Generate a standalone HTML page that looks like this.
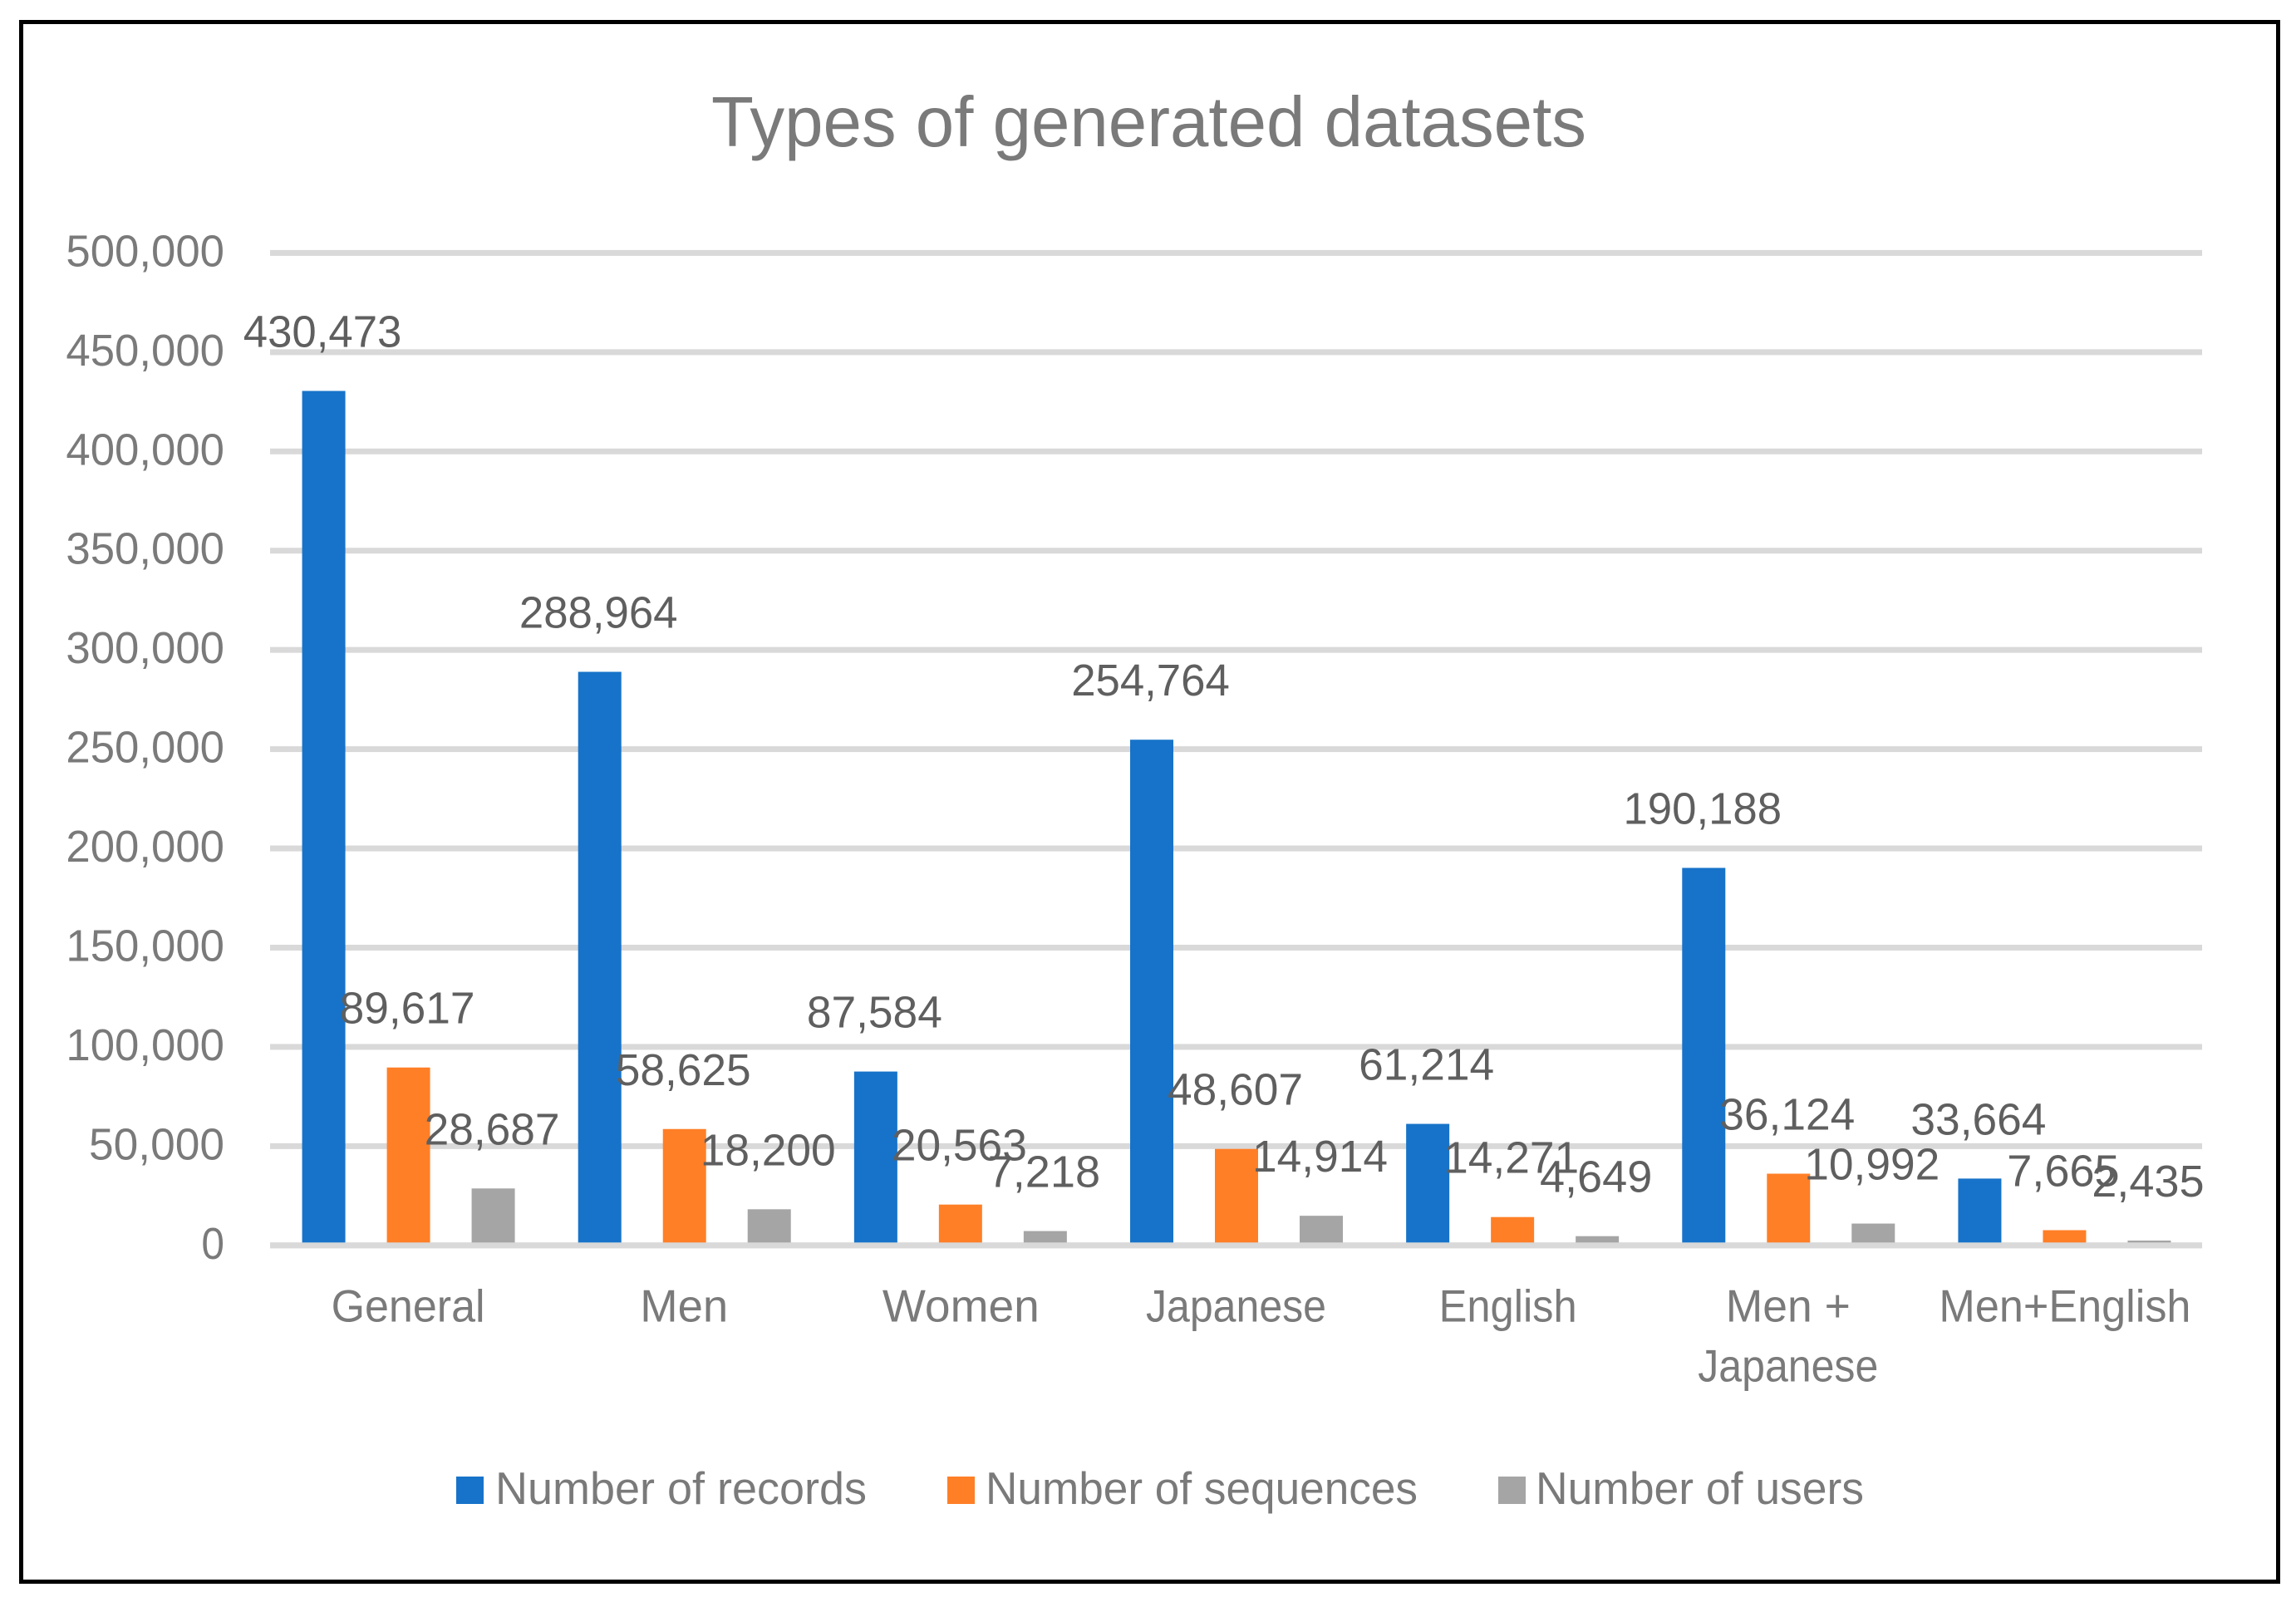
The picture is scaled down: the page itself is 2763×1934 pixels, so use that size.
<!DOCTYPE html>
<html lang="en">
<head>
<meta charset="utf-8">
<title>Types of generated datasets</title>
<style>
html,body{margin:0;padding:0;background:#fff;}
svg{display:block;font-family:"Liberation Sans",sans-serif;}
</style>
</head>
<body>
<svg id="chart" xmlns="http://www.w3.org/2000/svg" width="2763" height="1934" viewBox="0 0 2763 1934">
  <rect x="0" y="0" width="2763" height="1934" fill="#ffffff"/>
  <rect x="25.5" y="26.5" width="2716" height="1877" fill="none" stroke="#000000" stroke-width="5"/>
  <text x="856" y="176" font-size="85" fill="#7a7a7a" textLength="1053" lengthAdjust="spacingAndGlyphs">Types of generated datasets</text>
</svg>
<script>
const categories = ["General", "Men", "Women", "Japanese", "English", "Men + |Japanese", "Men+English"];
const categoryTextWidths = [185, 106, 189, 217, 166, "150|217", 303];
const categoryShift = [0, 0, 1, 0, -5, 0, 1];
const records = [430473, 288964, 87584, 254764, 61214, 190188, 33664];
const sequences = [89617, 58625, 20563, 48607, 14271, 36124, 7665];
const users = [28687, 18200, 7218, 14914, 4649, 10992, 2435];
const yTicks = [0, 50000, 100000, 150000, 200000, 250000, 300000, 350000, 400000, 450000, 500000];
const seriesNames = ["Number of records", "Number of sequences", "Number of users"];

const svg = document.getElementById('chart');
const NS = 'http://www.w3.org/2000/svg';
const plotLeft = 325, plotRight = 2650, y0 = 1498.8, yTop = 304.4, yMax = 500000;
const barWidth = 52, barGap = 102;
const colors = ['#1773c9', '#ff7f27', '#a5a5a5'];
const seriesList = [records, sequences, users];
const seriesKeys = ['records', 'sequences', 'users'];

function yScale(v) { return y0 - (v / yMax) * (y0 - yTop); }
function xBand(i) { return plotLeft + (i + 0.5) * (plotRight - plotLeft) / categories.length; }
function fmt(v) { return v.toLocaleString('en-US'); }
function numWidth(s) {
  const digits = s.replace(/,/g, '').length;
  const commas = s.length - digits;
  return digits * 27.6 + commas * 25;
}

yTicks.forEach(function (t) {
  const line = document.createElementNS(NS, 'rect');
  
  
  line.setAttribute('x', plotLeft);
  line.setAttribute('y', yScale(t) - 3.5);
  line.setAttribute('width', plotRight - plotLeft);
  line.setAttribute('height', 7);
  line.setAttribute('fill', '#d9d9d9');
  svg.appendChild(line);

  const label = document.createElementNS(NS, 'text');
  
  
  const s = fmt(t);
  const w = numWidth(s);
  label.setAttribute('x', 270 - w);
  label.setAttribute('y', yScale(t) + 16);
  label.setAttribute('font-size', 54);
  label.setAttribute('fill', '#7a7a7a');
  label.setAttribute('textLength', w);
  label.setAttribute('lengthAdjust', 'spacingAndGlyphs');
  label.textContent = s;
  svg.appendChild(label);
});

seriesList.forEach(function (vals, si) {
  vals.forEach(function (v, i) {
    const bar = document.createElementNS(NS, 'rect');
    
    
    bar.setAttribute('x', xBand(i) + (si - 1) * barGap - barWidth / 2 + 0.5);
    bar.setAttribute('y', yScale(v));
    bar.setAttribute('width', barWidth);
    bar.setAttribute('height', y0 - yScale(v));
    bar.setAttribute('fill', colors[si]);
    svg.appendChild(bar);
  });
});

const axisLine = document.createElementNS(NS, 'rect');


axisLine.setAttribute('x', plotLeft);
axisLine.setAttribute('y', y0 - 3.5);
axisLine.setAttribute('width', plotRight - plotLeft);
axisLine.setAttribute('height', 7);
axisLine.setAttribute('fill', '#d9d9d9');
svg.appendChild(axisLine);

seriesList.forEach(function (vals, si) {
  vals.forEach(function (v, i) {
    const t = document.createElementNS(NS, 'text');
    
    
    const s = fmt(v);
    const w = numWidth(s);
    t.setAttribute('x', xBand(i) + (si - 1) * barGap - 1 - w / 2);
    t.setAttribute('y', yScale(v) - 53);
    t.setAttribute('font-size', 54);
    t.setAttribute('fill', '#5f5f5f');
    t.setAttribute('textLength', w);
    t.setAttribute('lengthAdjust', 'spacingAndGlyphs');
    t.textContent = s;
    svg.appendChild(t);
  });
});

categories.forEach(function (c, i) {
  const lines = c.split('|');
  const widths = String(categoryTextWidths[i]).split('|');
  lines.forEach(function (ln, li) {
    const t = document.createElementNS(NS, 'text');
    
    
    const w = Number(widths[li]);
    t.setAttribute('x', xBand(i) + categoryShift[i] - w / 2);
    t.setAttribute('y', 1590.5 + li * 72);
    t.setAttribute('font-size', 55);
    t.setAttribute('fill', '#7a7a7a');
    t.setAttribute('textLength', w);
    t.setAttribute('lengthAdjust', 'spacingAndGlyphs');
    t.textContent = ln.trim();
    svg.appendChild(t);
  });
});

const legendSwatchX = [549, 1140, 1803];
const legendTextX = [596, 1186, 1848];
const legendTextW = [447, 520, 395];
seriesNames.forEach(function (name, i) {
  const sw = document.createElementNS(NS, 'rect');
  
  
  sw.setAttribute('x', legendSwatchX[i]);
  sw.setAttribute('y', 1777);
  sw.setAttribute('width', 33);
  sw.setAttribute('height', 33);
  sw.setAttribute('fill', colors[i]);
  svg.appendChild(sw);

  const t = document.createElementNS(NS, 'text');
  
  
  t.setAttribute('x', legendTextX[i]);
  t.setAttribute('y', 1810);
  t.setAttribute('font-size', 55);
  t.setAttribute('fill', '#7a7a7a');
  t.setAttribute('textLength', legendTextW[i]);
  t.setAttribute('lengthAdjust', 'spacingAndGlyphs');
  t.textContent = name;
  svg.appendChild(t);
});
</script>
</body>
</html>
